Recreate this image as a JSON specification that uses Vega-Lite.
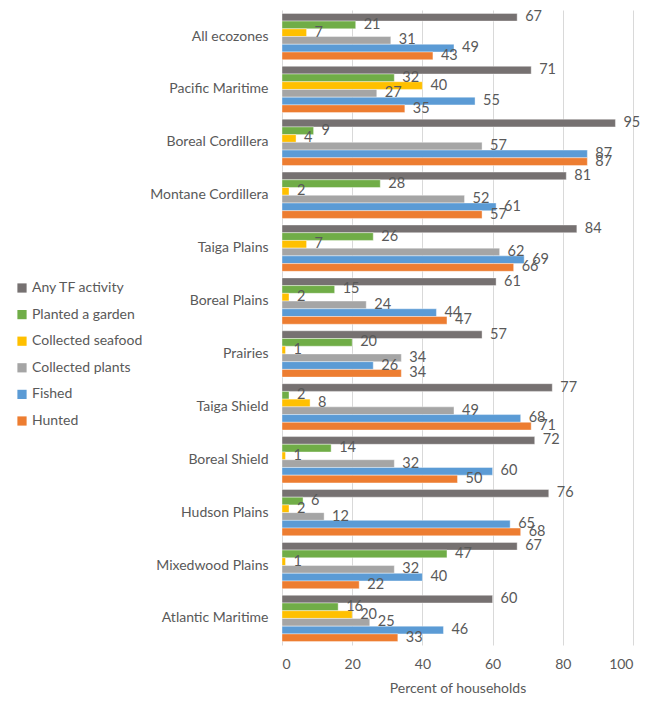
{
  "$schema": "https://vega.github.io/schema/vega-lite/v6.json",
  "autosize": {"type": "none"},
  "padding": {"left": 282, "top": 10, "right": 18, "bottom": 56},
  "width": 351,
  "height": 635,
  "background": "white",
  "config": {
    "font": "Lato",
    "view": {"stroke": null},
    "axis": {"labelColor": "#595959", "titleColor": "#595959", "labelFontSize": 14, "titleFontSize": 14, "titleFontWeight": "normal"},
    "legend": {"labelColor": "#595959", "labelFontSize": 14}
  },
  "data": {
    "values": [
      {"zone": "All ecozones", "activity": "Any TF activity", "value": 67},
      {"zone": "All ecozones", "activity": "Planted a garden", "value": 21},
      {"zone": "All ecozones", "activity": "Collected seafood", "value": 7},
      {"zone": "All ecozones", "activity": "Collected plants", "value": 31},
      {"zone": "All ecozones", "activity": "Fished", "value": 49},
      {"zone": "All ecozones", "activity": "Hunted", "value": 43},
      {"zone": "Pacific Maritime", "activity": "Any TF activity", "value": 71},
      {"zone": "Pacific Maritime", "activity": "Planted a garden", "value": 32},
      {"zone": "Pacific Maritime", "activity": "Collected seafood", "value": 40},
      {"zone": "Pacific Maritime", "activity": "Collected plants", "value": 27},
      {"zone": "Pacific Maritime", "activity": "Fished", "value": 55},
      {"zone": "Pacific Maritime", "activity": "Hunted", "value": 35},
      {"zone": "Boreal Cordillera", "activity": "Any TF activity", "value": 95},
      {"zone": "Boreal Cordillera", "activity": "Planted a garden", "value": 9},
      {"zone": "Boreal Cordillera", "activity": "Collected seafood", "value": 4},
      {"zone": "Boreal Cordillera", "activity": "Collected plants", "value": 57},
      {"zone": "Boreal Cordillera", "activity": "Fished", "value": 87},
      {"zone": "Boreal Cordillera", "activity": "Hunted", "value": 87},
      {"zone": "Montane Cordillera", "activity": "Any TF activity", "value": 81},
      {"zone": "Montane Cordillera", "activity": "Planted a garden", "value": 28},
      {"zone": "Montane Cordillera", "activity": "Collected seafood", "value": 2},
      {"zone": "Montane Cordillera", "activity": "Collected plants", "value": 52},
      {"zone": "Montane Cordillera", "activity": "Fished", "value": 61},
      {"zone": "Montane Cordillera", "activity": "Hunted", "value": 57},
      {"zone": "Taiga Plains", "activity": "Any TF activity", "value": 84},
      {"zone": "Taiga Plains", "activity": "Planted a garden", "value": 26},
      {"zone": "Taiga Plains", "activity": "Collected seafood", "value": 7},
      {"zone": "Taiga Plains", "activity": "Collected plants", "value": 62},
      {"zone": "Taiga Plains", "activity": "Fished", "value": 69},
      {"zone": "Taiga Plains", "activity": "Hunted", "value": 66},
      {"zone": "Boreal Plains", "activity": "Any TF activity", "value": 61},
      {"zone": "Boreal Plains", "activity": "Planted a garden", "value": 15},
      {"zone": "Boreal Plains", "activity": "Collected seafood", "value": 2},
      {"zone": "Boreal Plains", "activity": "Collected plants", "value": 24},
      {"zone": "Boreal Plains", "activity": "Fished", "value": 44},
      {"zone": "Boreal Plains", "activity": "Hunted", "value": 47},
      {"zone": "Prairies", "activity": "Any TF activity", "value": 57},
      {"zone": "Prairies", "activity": "Planted a garden", "value": 20},
      {"zone": "Prairies", "activity": "Collected seafood", "value": 1},
      {"zone": "Prairies", "activity": "Collected plants", "value": 34},
      {"zone": "Prairies", "activity": "Fished", "value": 26},
      {"zone": "Prairies", "activity": "Hunted", "value": 34},
      {"zone": "Taiga Shield", "activity": "Any TF activity", "value": 77},
      {"zone": "Taiga Shield", "activity": "Planted a garden", "value": 2},
      {"zone": "Taiga Shield", "activity": "Collected seafood", "value": 8},
      {"zone": "Taiga Shield", "activity": "Collected plants", "value": 49},
      {"zone": "Taiga Shield", "activity": "Fished", "value": 68},
      {"zone": "Taiga Shield", "activity": "Hunted", "value": 71},
      {"zone": "Boreal Shield", "activity": "Any TF activity", "value": 72},
      {"zone": "Boreal Shield", "activity": "Planted a garden", "value": 14},
      {"zone": "Boreal Shield", "activity": "Collected seafood", "value": 1},
      {"zone": "Boreal Shield", "activity": "Collected plants", "value": 32},
      {"zone": "Boreal Shield", "activity": "Fished", "value": 60},
      {"zone": "Boreal Shield", "activity": "Hunted", "value": 50},
      {"zone": "Hudson Plains", "activity": "Any TF activity", "value": 76},
      {"zone": "Hudson Plains", "activity": "Planted a garden", "value": 6},
      {"zone": "Hudson Plains", "activity": "Collected seafood", "value": 2},
      {"zone": "Hudson Plains", "activity": "Collected plants", "value": 12},
      {"zone": "Hudson Plains", "activity": "Fished", "value": 65},
      {"zone": "Hudson Plains", "activity": "Hunted", "value": 68},
      {"zone": "Mixedwood Plains", "activity": "Any TF activity", "value": 67},
      {"zone": "Mixedwood Plains", "activity": "Planted a garden", "value": 47},
      {"zone": "Mixedwood Plains", "activity": "Collected seafood", "value": 1},
      {"zone": "Mixedwood Plains", "activity": "Collected plants", "value": 32},
      {"zone": "Mixedwood Plains", "activity": "Fished", "value": 40},
      {"zone": "Mixedwood Plains", "activity": "Hunted", "value": 22},
      {"zone": "Atlantic Maritime", "activity": "Any TF activity", "value": 60},
      {"zone": "Atlantic Maritime", "activity": "Planted a garden", "value": 16},
      {"zone": "Atlantic Maritime", "activity": "Collected seafood", "value": 20},
      {"zone": "Atlantic Maritime", "activity": "Collected plants", "value": 25},
      {"zone": "Atlantic Maritime", "activity": "Fished", "value": 46},
      {"zone": "Atlantic Maritime", "activity": "Hunted", "value": 33}
    ]
  },
  "encoding": {
    "y": {
      "field": "zone",
      "type": "nominal",
      "sort": null,
      "title": null,
      "scale": {"paddingInner": 0.124, "paddingOuter": 0.064},
      "axis": {"domain": false, "ticks": false, "labelPadding": 14, "grid": false}
    },
    "yOffset": {
      "field": "activity",
      "type": "nominal",
      "sort": ["Any TF activity", "Planted a garden", "Collected seafood", "Collected plants", "Fished", "Hunted"],
      "scale": {"paddingInner": 0, "paddingOuter": 0}
    },
    "x": {
      "field": "value",
      "type": "quantitative",
      "title": "Percent of households",
      "scale": {"domain": [0, 100], "nice": false},
      "axis": {"values": [0, 20, 40, 60, 80, 100], "domain": false, "ticks": false, "gridColor": "#d9d9d9", "labelPadding": 12, "titlePadding": 10}
    }
  },
  "layer": [
    {
      "mark": {"type": "bar", "stroke": "white", "strokeWidth": 0.4},
      "encoding": {
        "color": {
          "field": "activity",
          "type": "nominal",
          "scale": {
            "domain": ["Any TF activity", "Planted a garden", "Collected seafood", "Collected plants", "Fished", "Hunted"],
            "range": ["#767171", "#70ad47", "#ffc000", "#a5a5a5", "#5b9bd5", "#ed7d31"]
          },
          "legend": {
            "title": null,
            "orient": "none",
            "legendX": -267,
            "legendY": 271,
            "symbolType": "square",
            "symbolSize": 85,
            "symbolStrokeWidth": 0,
            "rowPadding": 12.6,
            "labelOffset": 3
          }
        }
      }
    },
    {
      "mark": {"type": "text", "align": "left", "baseline": "middle", "dx": 8, "fontSize": 14.5, "color": "#595959"},
      "encoding": {"text": {"field": "value", "type": "quantitative"}}
    }
  ]
}
